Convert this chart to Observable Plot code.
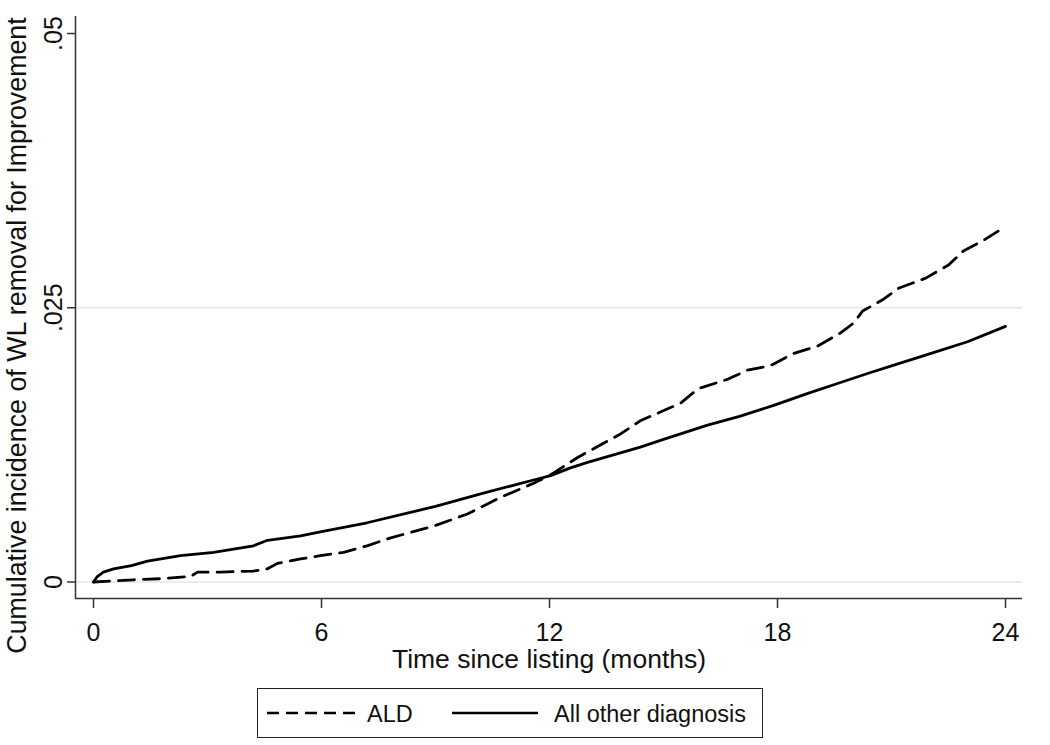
<!DOCTYPE html>
<html>
<head>
<meta charset="utf-8">
<script src="https://cdn.jsdelivr.net/npm/d3@7"></script>
<script src="https://cdn.jsdelivr.net/npm/@observablehq/plot@0.6"></script>
<style>
  html, body { margin: 0; padding: 0; background: #fff; }
  #wrap { position: relative; width: 1050px; height: 745px; font-family: "Liberation Sans", Arial, sans-serif; }
  #legend { position: absolute; left: 257px; top: 688px; width: 506px; height: 50px; box-sizing: border-box; border: 1.5px solid #222; }
</style>
</head>
<body>
<div id="wrap">
  <div id="chart"></div>
  <div id="legend"></div>
</div>
<script>
// ---- data ----
const aldMonths = [0, 0.53, 1.05, 1.76, 2.55, 2.74, 3.35, 4.21, 4.58, 4.84, 5.45, 5.97, 6.58, 7.2, 7.8, 8.95, 9.84, 10.7, 11.58, 12.0, 12.74, 13.87, 14.39, 15.45, 15.9, 16.7, 17.2, 17.8, 18.4, 19.05, 19.66, 20.0, 20.24, 20.8, 21.2, 21.9, 22.5, 22.9, 23.4, 24.0];
const aldValues = [0, 0.0001, 0.0002, 0.0003, 0.0005, 0.0009, 0.0009, 0.0010, 0.0012, 0.0017, 0.0021, 0.0024, 0.0027, 0.0033, 0.0040, 0.0051, 0.0062, 0.0077, 0.0090, 0.0097, 0.01135, 0.0135, 0.0147, 0.0163, 0.0176, 0.0185, 0.0193, 0.0197, 0.0208, 0.0215, 0.0227, 0.0236, 0.0247, 0.0258, 0.0268, 0.0277, 0.0289, 0.0302, 0.0311, 0.0324];

const otherMonths = [0, 0.1, 0.26, 0.53, 1.0, 1.42, 2.29, 3.16, 4.21, 4.58, 5.45, 6.0, 7.2, 8.53, 9.0, 10.26, 11.58, 12.03, 12.55, 13.0, 14.39, 15.0, 16.16, 17.0, 17.9, 18.8, 19.5, 20.45, 21.0, 22.0, 23.0, 24.0];
const otherValues = [0, 0.0005, 0.0009, 0.0012, 0.0015, 0.0019, 0.0024, 0.0027, 0.0033, 0.0038, 0.0042, 0.0046, 0.0054, 0.0065, 0.0069, 0.0081, 0.0093, 0.0097, 0.0104, 0.0109, 0.0123, 0.0130, 0.0143, 0.0151, 0.0161, 0.0172, 0.0180, 0.0191, 0.0197, 0.0208, 0.0219, 0.0233];

const seriesNames = ["ALD", "All other diagnosis"];
const xTicks = [0, 6, 12, 18, 24];
const yTicks = [0, 0.025, 0.05];
const yTickLabels = ["0", ".025", ".05"];
const yGrid = [0, 0.025];
const xTitle = "Time since listing (months)";
const yTitle = "Cumulative incidence of WL removal for Improvement";

// ---- build tables ----
const ald = aldMonths.map((t, i) => ({t, v: aldValues[i], s: seriesNames[0]}));
const other = otherMonths.map((t, i) => ({t, v: otherValues[i], s: seriesNames[1]}));
const yTickData = yTicks.map((v, i) => ({v, label: yTickLabels[i]}));

const xDomain = [-0.4737, 24.447];
const yDomain = [-0.001504, 0.05155];
const font = "Liberation Sans, Arial, sans-serif";

const chart = Plot.plot({
  width: 1050,
  height: 680,
  marginLeft: 75,
  marginRight: 28,
  marginTop: 16,
  marginBottom: 82,
  style: {fontFamily: font, background: "#fff", color: "#111"},
  x: {domain: xDomain},
  y: {domain: yDomain},
  marks: [
    Plot.ruleY(yGrid, {stroke: "#e6e6e6", strokeWidth: 1.5}),
    Plot.ruleY([yDomain[0]], {stroke: "#333", strokeWidth: 1.5}),
    Plot.ruleX([xDomain[0]], {stroke: "#333", strokeWidth: 1.5}),
    Plot.axisX({ticks: xTicks, tickSize: 10, tickPadding: 15, fontSize: 25, stroke: "#333", strokeWidth: 1.5, label: null, tickFormat: d => String(d)}),
    Plot.axisY({ticks: yTicks, tickSize: 8, stroke: "#333", strokeWidth: 1.5, label: null, tickFormat: () => ""}),
    Plot.text(yTickData, {y: "v", text: "label", frameAnchor: "left", dx: -14, rotate: -90, textAnchor: "middle", lineAnchor: "bottom", fontSize: 25, fill: "#111"}),
    Plot.text([xTitle], {text: d => d, frameAnchor: "bottom", dy: 69, lineAnchor: "bottom", textAnchor: "middle", fontSize: 26.5, fill: "#111"}),
    Plot.text([yTitle], {text: d => d, frameAnchor: "left", dx: -50, dy: 28, rotate: -90, lineAnchor: "bottom", textAnchor: "middle", fontSize: 26.8, fill: "#111"}),
    Plot.line(ald, {x: "t", y: "v", stroke: "#000", strokeWidth: 2.8, strokeDasharray: "16,9", strokeLinejoin: "round"}),
    Plot.line(other, {x: "t", y: "v", stroke: "#000", strokeWidth: 2.8, strokeLinejoin: "round"})
  ]
});
document.getElementById("chart").appendChild(chart);

// ---- legend ----
const lg = d3.select("#legend").append("svg")
  .attr("width", 503).attr("height", 47)
  .style("position", "absolute").style("left", "0px").style("top", "0px");
const items = [
  {name: seriesNames[0], x1: 9, x2: 99, tx: 109, dash: "12,7"},
  {name: seriesNames[1], x1: 194, x2: 280, tx: 296, dash: null}
];
items.forEach(it => {
  const ln = lg.append("line").attr("x1", it.x1).attr("x2", it.x2).attr("y1", 24).attr("y2", 24)
    .attr("stroke", "#000").attr("stroke-width", 2.5);
  if (it.dash) ln.attr("stroke-dasharray", it.dash);
  lg.append("text").attr("x", it.tx).attr("y", 32.5).attr("font-family", font)
    .attr("font-size", 23.5).attr("fill", "#111").text(it.name);
});
</script>
</body>
</html>
